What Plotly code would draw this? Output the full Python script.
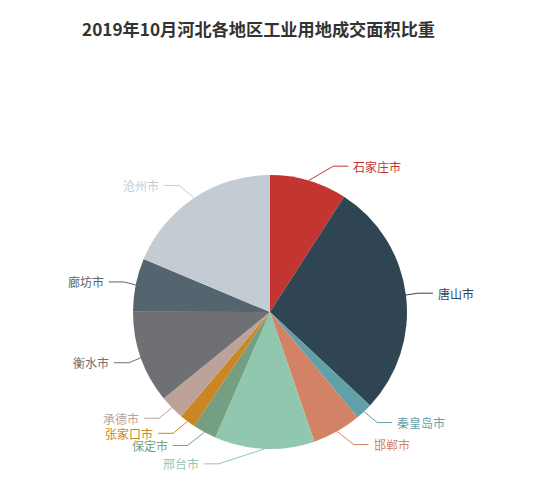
import math
import plotly.graph_objects as go

# 2019年10月河北各地区工业用地成交面积比重 (%)
cities = ['石家庄市', '唐山市', '秦皇岛市', '邯郸市', '邢台市', '保定市',
          '张家口市', '承德市', '衡水市', '廊坊市', '沧州市']
shares = [9.1, 27.9, 2.0, 5.8, 11.8, 2.8, 1.9, 2.9, 10.9, 6.3, 18.7]
colors = ['#c23531', '#2f4554', '#61a0a8', '#d48265', '#91c7ae', '#749f83',
          '#ca8622', '#bda29a', '#6e7074', '#546570', '#c4ccd3']

W, H = 550, 490
OFF = 8                       # page body margin
CX, CY, R = 270, 312, 137     # pie centre / radius in screen px
LEN1, LEN2 = 15, 15           # label line segments
TXT_H = 12

total = sum(shares)

# label layout, roughly the way echarts does it
labels = []
acc = 0
for name, v, c in zip(cities, shares, colors):
    mid = (acc + v / 2) / total * 2 * math.pi
    acc += v
    dx, dy = math.sin(mid), -math.cos(mid)
    x1, y1 = CX + R * dx, CY + R * dy
    y2 = CY + (R + LEN1) * dy
    labels.append(dict(name=name, color=c, x1=x1, y1=y1, y=y2,
                       side=1 if dx >= 0 else -1))

for side in (1, -1):
    lst = sorted([l for l in labels if l['side'] == side], key=lambda l: l['y'])
    last = -1e9
    for l in lst:
        if l['y'] < last:
            l['y'] = last
        last = l['y'] + TXT_H
    for down in (False, True):
        part = [l for l in lst if (l['y'] >= CY) == down]
        last_dx = float('inf') if down else 0
        for l in part:
            d_y = abs(l['y'] - CY)
            if d_y < R + LEN1:
                d_x = math.sqrt((R + LEN1 + LEN2) ** 2 - d_y ** 2)
            else:
                d_x = abs(l['x1'] - CX)
            if down and d_x >= last_dx:
                d_x = last_dx - 10
            if not down and d_x <= last_dx:
                d_x = last_dx + 10
            l['x'] = CX + d_x * side
            last_dx = d_x

fig = go.Figure()

fig.add_trace(go.Pie(
    labels=cities, values=shares, sort=False, direction='clockwise', rotation=0,
    marker=dict(colors=colors, line=dict(width=0)),
    textinfo='none', hoverinfo='label+percent', showlegend=False,
    domain=dict(x=[(CX - R - OFF) / W, (CX + R - OFF) / W],
                y=[1 - (CY + R - OFF) / H, 1 - (CY - R - OFF) / H]),
))

annotations = []
for l in labels:
    x3 = l['x'] - 3 * l['side']
    x2 = x3 - LEN2 * l['side']
    fig.add_trace(go.Scatter(
        x=[l['x1'], x2, x3], y=[l['y1'], l['y'], l['y']], mode='lines',
        line=dict(color=l['color'], width=1), hoverinfo='skip', showlegend=False))
    annotations.append(dict(
        x=l['x'], y=l['y'], xref='x', yref='y', text=l['name'], showarrow=False,
        xanchor='left' if l['side'] > 0 else 'right', yanchor='middle',
        font=dict(size=12, color=l['color'])))

annotations.append(dict(
    x=258, y=28, xref='x', yref='y', showarrow=False,
    text='<b>2019年10月河北各地区工业用地成交面积比重</b>',
    xanchor='center', yanchor='middle', font=dict(size=17.2, color='#333')))

fig.update_layout(
    width=W, height=H, margin=dict(l=0, r=0, t=0, b=0),
    paper_bgcolor='white', plot_bgcolor='rgba(0,0,0,0)',
    font=dict(family='Noto Sans CJK SC, sans-serif'),
    xaxis=dict(range=[OFF, W + OFF], visible=False, fixedrange=True),
    yaxis=dict(range=[H + OFF, OFF], visible=False, fixedrange=True),
    annotations=annotations,
)

fig.write_html("out.html")
